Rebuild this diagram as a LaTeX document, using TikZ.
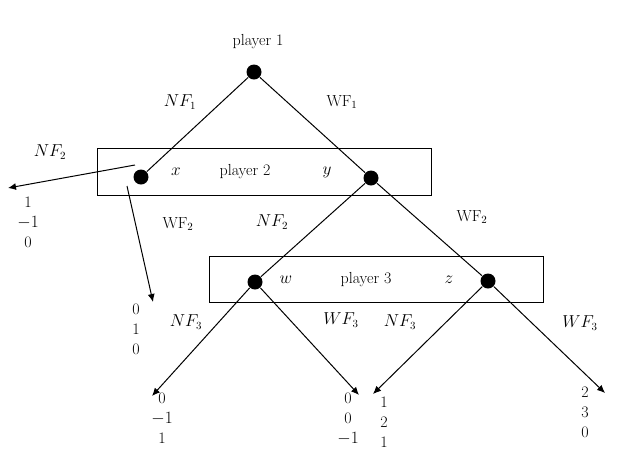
\documentclass[tikz,border=0pt]{standalone}
\usepackage{amsmath}
\usetikzlibrary{arrows.meta}
\begin{document}
\begin{tikzpicture}[
    x=1pt, y=-1pt,
    line width=1pt,
    dot/.style={circle, fill=black, inner sep=0pt, minimum size=15pt},
    lab/.style={font=\fontsize{16}{18}\selectfont},
    pay/.style={font=\fontsize{16}{18}\selectfont, align=center, inner sep=0pt},
    >={Latex[length=8pt,width=7pt]}
]
    \useasboundingbox (0,0) rectangle (622,467);
    % Information sets
    \draw (97,148) rectangle (431,195);
    \draw (209,256) rectangle (543,302);

    % Decision nodes
    \node[dot] (r) at (254,72) {};
    \node[dot] (x) at (141,177) {};
    \node[dot] (y) at (371,178) {};
    \node[dot] (w) at (255,282) {};
    \node[dot] (z) at (488,281) {};
    \node[lab] (p1) at (258,42) {player 1};
    \node[lab] (p2) at (245,172) {player 2};
    \node[lab] (p3) at (366,280) {player 3};
    \node[lab] (xl) at (176,172) {$x$};
    \node[lab] (yl) at (327,172) {$y$};
    \node[lab] (wl) at (286,280) {$w$};
    \node[lab] (zl) at (449,280) {$z$};

    % Terminal points
    \coordinate (t1s) at (135,165);
    \coordinate (t1) at (8,188);
    \coordinate (t2s) at (127,186);
    \coordinate (t2) at (153,302);
    \coordinate (t3) at (152,396);
    \coordinate (t4) at (359,395);
    \coordinate (t5) at (373,394);
    \coordinate (t6) at (605,393);

    % Moves
    \draw (r) -- (x);
    \draw (r) -- (y);
    \draw (y) -- (w);
    \draw (y) -- (z);
    \draw[->] (t1s) -- (t1);
    \draw[->] (t2s) -- (t2);
    \draw[->] (w) -- (t3);
    \draw[->] (w) -- (t4);
    \draw[->] (z) -- (t5);
    \draw[->] (z) -- (t6);

    % Move labels
    \node[lab] (nf1) at (180,102) {$NF_1$};
    \node[lab] (wf1) at (342,102) {WF$_1$};
    \node[lab] (nf2a) at (50,152) {$NF_2$};
    \node[lab] (wf2a) at (178,224) {WF$_2$};
    \node[lab] (nf2b) at (272,222) {$NF_2$};
    \node[lab] (wf2b) at (472,217) {WF$_2$};
    \node[lab] (nf3a) at (186,322) {$NF_3$};
    \node[lab] (wf3a) at (341,320) {$WF_3$};
    \node[lab] (nf3b) at (400,322) {$NF_3$};
    \node[lab] (wf3b) at (580,323) {$WF_3$};

    % Payoffs
    \node[pay, anchor=north] (u1) at (28,196) {1\\[2pt]$-1$\\[2pt]0};
    \node[pay, anchor=north] (u2) at (136,303) {0\\[2pt]1\\[2pt]0};
    \node[pay, anchor=north] (u3) at (162,392) {0\\[2pt]$-1$\\[2pt]1};
    \node[pay, anchor=north] (u4) at (348,392) {0\\[2pt]0\\[2pt]$-1$};
    \node[pay, anchor=north] (u5) at (384,396) {1\\[2pt]2\\[2pt]1};
    \node[pay, anchor=north] (u6) at (585,386) {2\\[2pt]3\\[2pt]0};
\end{tikzpicture}
\end{document}
